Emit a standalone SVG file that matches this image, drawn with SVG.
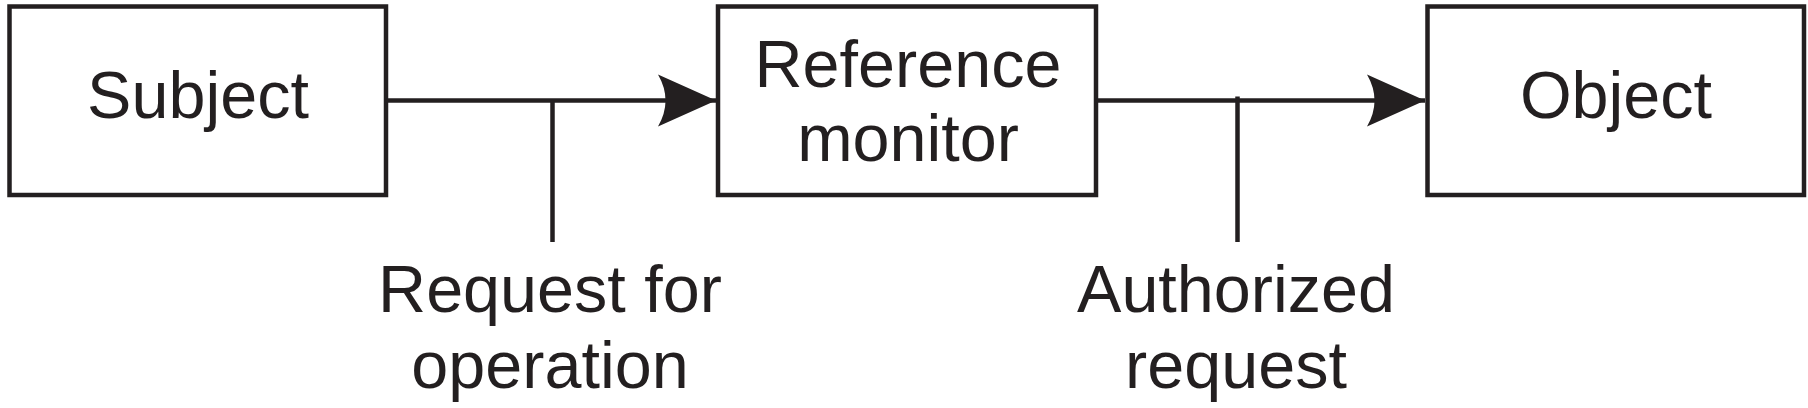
<svg xmlns="http://www.w3.org/2000/svg" width="1808" height="408" viewBox="0 0 1808 408">
  <style>
    .box { fill: #ffffff; stroke: #231f20; stroke-width: 4.5; }
    .conn { fill: none; stroke: #231f20; stroke-width: 4.5; }
    .lbl { font-family: "Liberation Sans", Arial, sans-serif; font-size: 66.5px; fill: #231f20; text-anchor: middle; }
  </style>
  <defs>
    <marker id="arrow" markerUnits="userSpaceOnUse" viewBox="-60 -28 62 56" refX="0" refY="0" markerWidth="62" markerHeight="56" orient="auto">
      <path d="M0,0 L-58,-26 Q-43,0 -58,26 Z" fill="#231f20"/>
    </marker>
  </defs>
  <rect width="1808" height="408" fill="#ffffff"/>
  <g id="subject">
    <rect class="box" x="9.5" y="6.5" width="376.5" height="188.5"/>
    <text class="lbl" x="198" y="118">Subject</text>
  </g>
  <g id="reference-monitor">
    <rect class="box" x="718" y="6.5" width="378" height="188.5"/>
    <text class="lbl" x="908" y="87">Reference</text>
    <text class="lbl" x="908" y="161">monitor</text>
  </g>
  <g id="object">
    <rect class="box" x="1427.5" y="6.5" width="376.5" height="188.5"/>
    <text class="lbl" x="1616" y="118">Object</text>
  </g>
  <g id="connectors">
    <line class="conn" x1="386" y1="100.5" x2="716" y2="100.5" marker-end="url(#arrow)"/>
    <line class="conn" x1="552.5" y1="100.5" x2="552.5" y2="242"/>
    <line class="conn" x1="1096" y1="100.5" x2="1425" y2="100.5" marker-end="url(#arrow)"/>
    <line class="conn" x1="1237.5" y1="96.5" x2="1237.5" y2="242"/>
  </g>
  <g id="label-request">
    <text class="lbl" x="550" y="312">Request for</text>
    <text class="lbl" x="550" y="388">operation</text>
  </g>
  <g id="label-authorized">
    <text class="lbl" x="1236" y="312">Authorized</text>
    <text class="lbl" x="1236" y="388">request</text>
  </g>
</svg>
